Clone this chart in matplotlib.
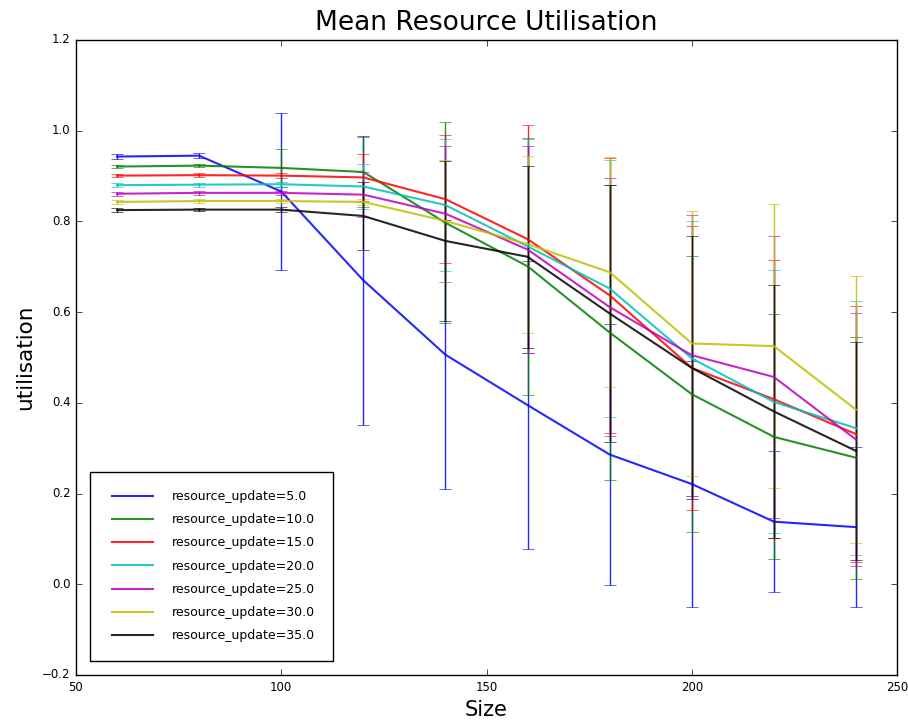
"""Mean resource utilisation against size for several resource update rates."""
import matplotlib
matplotlib.use('Agg')
import matplotlib.pyplot as plt

plt.style.use('classic')

# Problem sizes
sizes = [60, 80, 100, 120, 140, 160, 180, 200, 220, 240]

# Mean utilisation per resource update rate
mean_5 = [0.943, 0.945, 0.866, 0.670, 0.506, 0.395, 0.286, 0.221, 0.138, 0.126]
mean_10 = [0.921, 0.923, 0.918, 0.909, 0.797, 0.701, 0.555, 0.419, 0.325, 0.279]
mean_15 = [0.901, 0.902, 0.901, 0.897, 0.849, 0.761, 0.637, 0.477, 0.408, 0.331]
mean_20 = [0.880, 0.881, 0.882, 0.877, 0.836, 0.745, 0.652, 0.498, 0.402, 0.344]
mean_25 = [0.861, 0.863, 0.863, 0.859, 0.817, 0.738, 0.611, 0.505, 0.457, 0.319]
mean_30 = [0.843, 0.845, 0.845, 0.843, 0.801, 0.750, 0.688, 0.531, 0.525, 0.385]
mean_35 = [0.825, 0.826, 0.826, 0.812, 0.757, 0.722, 0.597, 0.477, 0.381, 0.294]

# Standard deviation of utilisation
std_5 = [0.005, 0.005, 0.173, 0.318, 0.297, 0.318, 0.288, 0.272, 0.156, 0.176]
std_10 = [0.004, 0.004, 0.042, 0.078, 0.222, 0.284, 0.325, 0.304, 0.270, 0.267]
std_15 = [0.004, 0.004, 0.005, 0.052, 0.141, 0.252, 0.303, 0.314, 0.306, 0.282]
std_20 = [0.004, 0.004, 0.005, 0.050, 0.145, 0.236, 0.283, 0.304, 0.290, 0.280]
std_25 = [0.004, 0.004, 0.005, 0.050, 0.150, 0.229, 0.285, 0.310, 0.310, 0.279]
std_30 = [0.004, 0.004, 0.004, 0.006, 0.135, 0.195, 0.254, 0.293, 0.313, 0.295]
std_35 = [0.004, 0.004, 0.005, 0.075, 0.177, 0.200, 0.283, 0.290, 0.279, 0.240]

update_rates = [5.0, 10.0, 15.0, 20.0, 25.0, 30.0, 35.0]
means = [mean_5, mean_10, mean_15, mean_20, mean_25, mean_30, mean_35]
stds = [std_5, std_10, std_15, std_20, std_25, std_30, std_35]
colours = ['b', 'g', 'r', 'c', 'm', 'y', 'k']

fig = plt.figure(figsize=(9.08, 7.22), dpi=100, facecolor='white')
ax = fig.add_axes([0.0837, 0.0651, 0.9043, 0.8795])

for rate, mean, std, colour in zip(update_rates, means, stds, colours):
    ax.errorbar(sizes, mean, yerr=std, color=colour, lw=1.5, elinewidth=1,
                capsize=4, alpha=0.85,
                label='resource_update={}'.format(rate))

ax.set_xlim(50, 250)
ax.set_ylim(-0.2, 1.2)
ax.set_title('Mean Resource Utilisation', fontsize=19, pad=7)
ax.set_xlabel('Size', fontsize=15)
ax.set_ylabel('utilisation', fontsize=15.5)
ax.tick_params(labelsize=8.5)

# Legend shows plain lines, without the error bar glyphs
handles, labels = ax.get_legend_handles_labels()
handles = [h[0] for h in handles]
ax.legend(handles, labels, loc='lower left', fontsize=9, borderpad=1.45,
          labelspacing=0.82, handlelength=3.9, handletextpad=1.2,
          borderaxespad=1.15)

fig.savefig('out.png', dpi=100, facecolor='white')
